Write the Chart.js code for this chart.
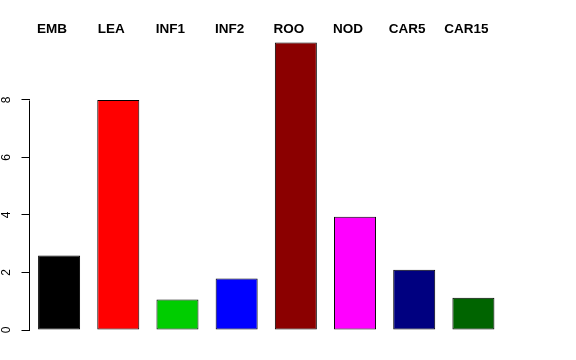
<!DOCTYPE html>
<html>
<head>
<meta charset="utf-8">
<script src="https://cdn.jsdelivr.net/npm/chart.js@4/dist/chart.umd.min.js"></script>
<style>
  html, body { margin: 0; padding: 0; background: #fff; }
  canvas { display: block; }
</style>
</head>
<body>
<canvas id="chart" width="576" height="360"></canvas>
<script>
const categories = ["EMB", "LEA", "INF1", "INF2", "ROO", "NOD", "CAR5", "CAR15"];
const values = [2.59, 8.0, 1.06, 1.79, 10.0, 3.94, 2.1, 1.12];
const barColors = ["#000000", "#ff0000", "#00cd00", "#0000ff", "#8b0000", "#ff00ff", "#000080", "#006400"];
const yTicks = [0, 2, 4, 6, 8];

// R style axis: the line only runs from the first to the last tick
const axisLine = {
  id: "axisLine",
  afterDraw(chart) {
    const y = chart.scales.y;
    const ctx = chart.ctx;
    const x = Math.round(y.right) - 0.5;
    ctx.save();
    ctx.strokeStyle = "#000";
    ctx.lineWidth = 1;
    ctx.beginPath();
    ctx.moveTo(x, Math.round(y.getPixelForValue(yTicks[0])) + 0.5);
    ctx.lineTo(x, Math.round(y.getPixelForValue(yTicks[yTicks.length - 1])) + 0.5);
    ctx.stroke();
    ctx.restore();
  },
};

const ctx = document.getElementById("chart").getContext("2d");
new Chart(ctx, {
  type: "bar",
  data: {
    labels: categories,
    datasets: [
      {
        data: values,
        backgroundColor: barColors,
        borderColor: "#000",
        borderWidth: 1,
        borderSkipped: false,
        categoryPercentage: 1,
        barPercentage: 0.71,
      },
    ],
  },
  options: {
    responsive: false,
    animation: false,
    events: [],
    layout: { padding: { top: 0, left: 0, right: 73, bottom: 30 } },
    plugins: {
      legend: { display: false },
      tooltip: { enabled: false },
    },
    scales: {
      x: {
        position: "top",
        offset: true,
        grid: { display: false },
        border: { display: false },
        ticks: {
          color: "#000",
          font: { family: "Liberation Sans", size: 13.5, weight: "bold" },
          padding: -9,
          labelOffset: -7,
          maxRotation: 0,
          autoSkip: false,
        },
        afterFit(scale) {
          scale.height = 36.75;
        },
      },
      y: {
        min: 0,
        max: 10.2,
        border: { display: false },
        grid: {
          drawOnChartArea: false,
          drawTicks: true,
          tickLength: 8,
          color: "#000",
        },
        ticks: {
          color: "#000",
          font: { family: "Liberation Sans", size: 12 },
          minRotation: 90,
          maxRotation: 90,
          crossAlign: "center",
          padding: 11.5,
        },
        afterBuildTicks(scale) {
          scale.ticks = yTicks.map((v) => ({ value: v }));
        },
        afterFit(scale) {
          scale.width = 29.5;
        },
      },
    },
  },
  plugins: [axisLine],
});
</script>
</body>
</html>
